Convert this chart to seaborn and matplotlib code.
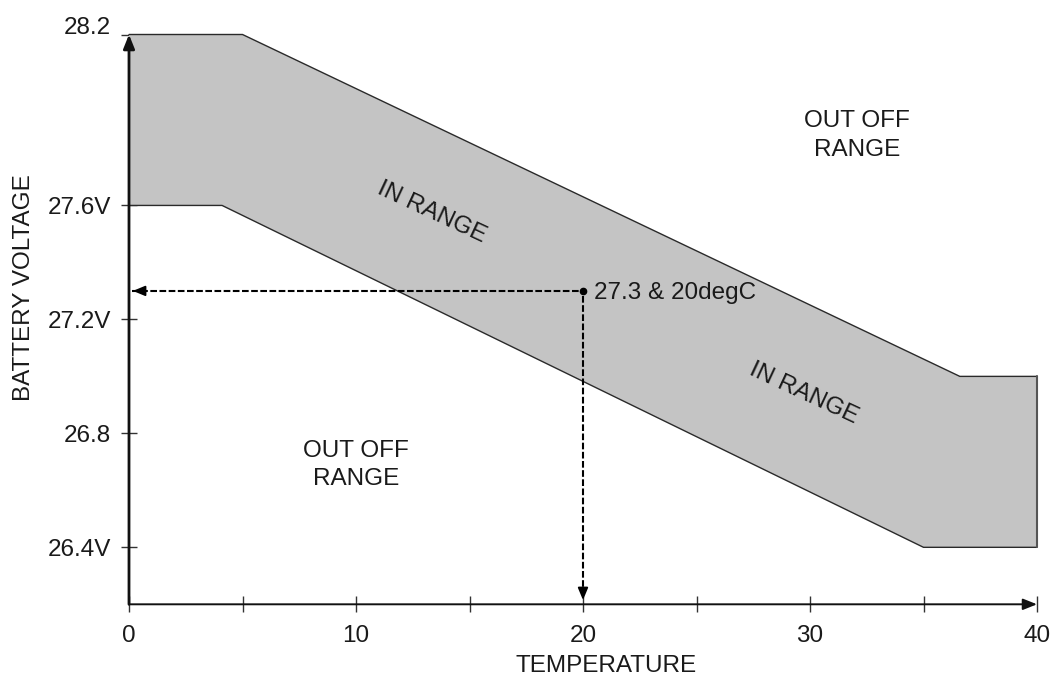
import matplotlib
matplotlib.use("Agg")
import matplotlib.pyplot as plt
import matplotlib.transforms as mtrans
import seaborn as sns
import pandas as pd
import numpy as np

# ---- data ----
upper_temp = [0, 5, 36.6, 40]
upper_volt = [28.2, 28.2, 27.0, 27.0]
lower_temp = [0, 4.1, 35.0, 40]
lower_volt = [27.6, 27.6, 26.4, 26.4]
point_temp = 20
point_volt = 27.3
point_label = "27.3 & 20degC"
ytick_vals = [28.2, 27.6, 27.2, 26.8, 26.4]
ytick_labels = ["28.2", "27.6V", "27.2V", "26.8", "26.4V"]
xtick_major = [0, 10, 20, 30, 40]
xtick_minor = [5, 15, 25, 35]
in_range_pos = [(13.35, 27.575), (29.7, 26.94)]
out_range_pos = [(32.07, 27.846), (10.0, 26.688)]

sns.set_theme(style="white")
plt.rcParams['font.family'] = ['Liberation Sans', 'DejaVu Sans']
FS = 17.5
BAND = "#c4c4c4"
EDGE = "#2a2a2a"

fig = plt.figure(figsize=(10.57, 6.78), dpi=100)
ax = fig.add_axes([129/1057, 1-604.3/678, (1037-129)/1057, (604.3-34.5)/678])
ax.set_xlim(0, 40)
ax.set_ylim(26.2, 28.2)

# band polygon
poly_x = upper_temp + lower_temp[::-1]
poly_y = upper_volt + lower_volt[::-1]
ax.fill(poly_x, poly_y, color=BAND, lw=0, zorder=1)

up = pd.DataFrame({"t": upper_temp, "v": upper_volt})
lo = pd.DataFrame({"t": lower_temp, "v": lower_volt})
sns.lineplot(data=up, x="t", y="v", color=EDGE, lw=1.0, sort=False, ax=ax, zorder=2, clip_on=False)
sns.lineplot(data=lo, x="t", y="v", color=EDGE, lw=1.0, sort=False, ax=ax, zorder=2, clip_on=False)
ax.plot([upper_temp[-1], lower_temp[-1]], [upper_volt[-1], lower_volt[-1]],
        color="#555555", lw=1.5, zorder=2, clip_on=False)
ax.set_xlabel("")
ax.set_ylabel("")

# dashed guide lines
dash = (0, (3.2, 1.2))
ax.plot([0.15, point_temp], [point_volt, point_volt], color="black", lw=1.5, ls=dash, zorder=3)
ax.plot([point_temp, point_temp], [26.23, point_volt], color="black", lw=1.5, ls=dash, zorder=3)
ax.plot([point_temp], [point_volt], "o", color="black", ms=4.5, zorder=4)
ax.annotate("", xy=(0.05, point_volt), xytext=(0.6, point_volt),
            arrowprops=dict(arrowstyle="-|>,head_length=0.6,head_width=0.25", color="black", lw=1.4),
            zorder=4)
ax.annotate("", xy=(point_temp, 26.205), xytext=(point_temp, 26.26),
            arrowprops=dict(arrowstyle="-|>,head_length=0.6,head_width=0.25", color="black", lw=1.4),
            zorder=4)
ax.text(point_temp + 0.5, point_volt - 0.008, point_label, fontsize=FS, va="center", ha="left", color="#1a1a1a")

# region labels
for (x, y) in in_range_pos:
    ax.text(x, y, "IN RANGE", fontsize=FS, rotation=-25, rotation_mode="anchor",
            ha="center", va="center", color="#1a1a1a")
for (x, y) in out_range_pos:
    ax.text(x, y, "OUT OFF\nRANGE", fontsize=FS, ha="center", va="center",
            linespacing=1.38, color="#1a1a1a")

# axes: hide spines, draw arrowed axes
for s in ax.spines.values():
    s.set_visible(False)
ax.annotate("", xy=(0, 28.2), xytext=(0, 26.2), xycoords="data",
            arrowprops=dict(arrowstyle="-|>,head_length=0.7,head_width=0.28", color="#111111", lw=2,
                            shrinkA=0, shrinkB=0), annotation_clip=False, zorder=5)
ax.annotate("", xy=(40, 26.2), xytext=(0, 26.2), xycoords="data",
            arrowprops=dict(arrowstyle="-|>,head_length=0.7,head_width=0.28", color="#111111", lw=1.4,
                            shrinkA=0, shrinkB=0), annotation_clip=False, zorder=5)

# ticks
ax.set_xticks(xtick_major)
ax.set_xticklabels([str(v) for v in xtick_major])
ax.set_xticks(xtick_minor, minor=True)
ax.set_yticks(ytick_vals)
ax.set_yticklabels(ytick_labels)
ax.tick_params(axis="x", which="both", direction="inout", length=12, width=1.0, color="#333333",
               bottom=True, labelsize=FS, pad=9, labelcolor="#1a1a1a")
ax.tick_params(axis="y", which="both", direction="inout", length=12, width=1.0, color="#333333",
               left=True, labelsize=FS, pad=7, labelcolor="#1a1a1a")
# raise the top label a little
for lbl in ax.get_yticklabels():
    if lbl.get_text() == "28.2":
        lbl.set_transform(lbl.get_transform() + mtrans.ScaledTranslation(0, 9/100, fig.dpi_scale_trans))

fig.text(606/1057, 1-666/678, "TEMPERATURE", fontsize=FS, ha="center", va="center", color="#1a1a1a")
fig.text(24/1057, 1-288/678, "BATTERY VOLTAGE", fontsize=FS, ha="center", va="center",
         rotation=90, color="#1a1a1a")

ax.grid(False)
fig.savefig("out.png", dpi=100)
